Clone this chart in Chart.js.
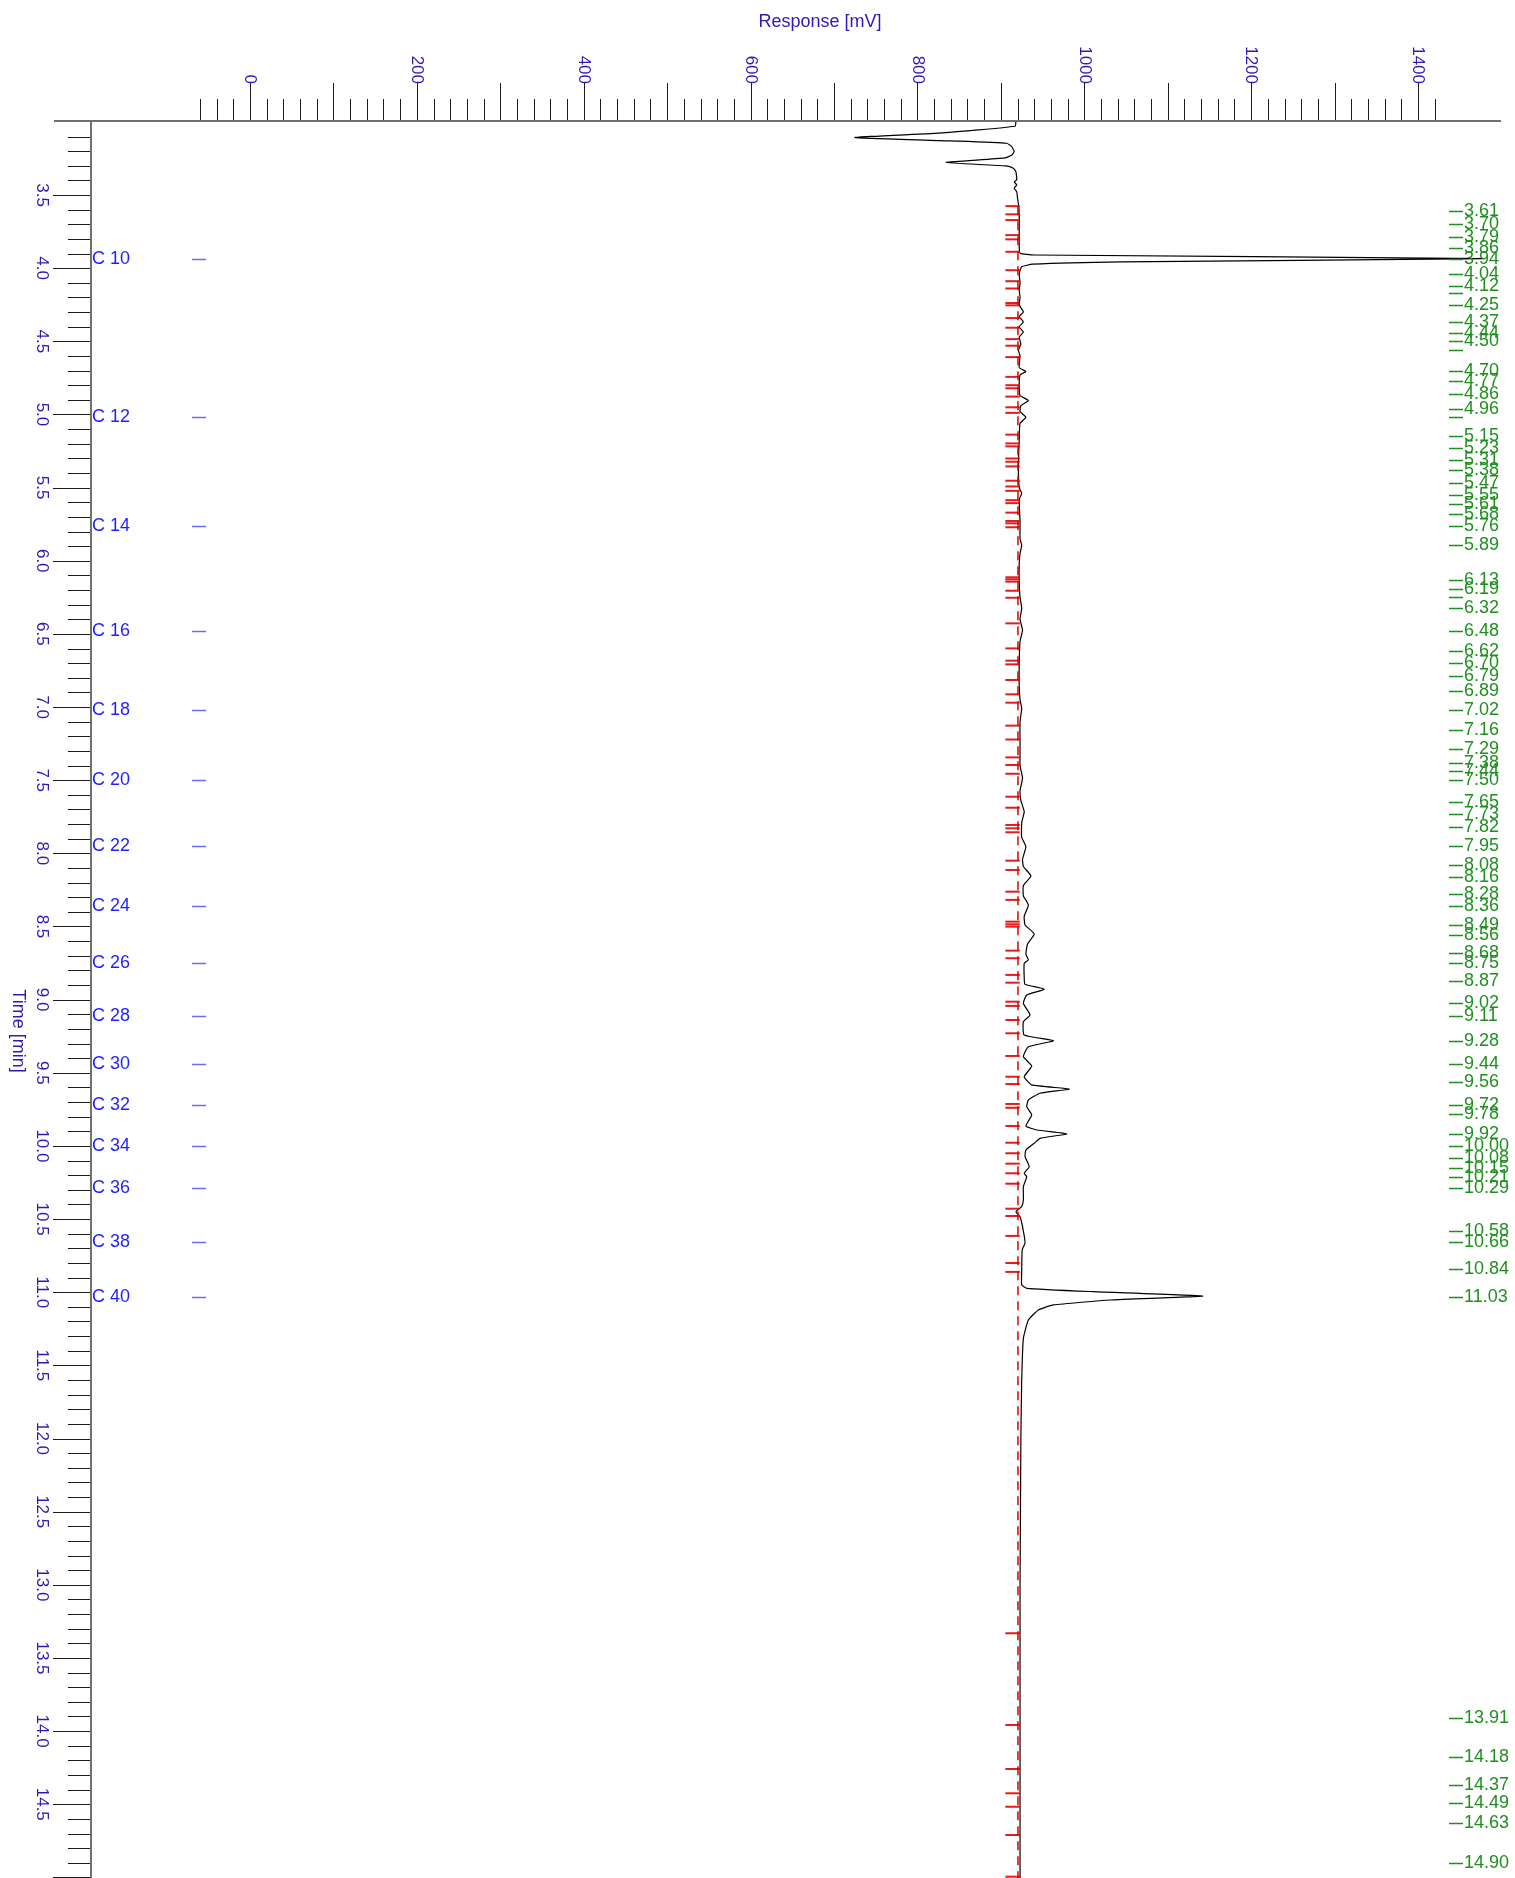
<!DOCTYPE html>
<html>
<head>
<meta charset="utf-8">
<title>Chromatogram</title>
<script src="https://cdn.jsdelivr.net/npm/chart.js@4.4.1/dist/chart.umd.min.js"></script>
<style>
  html, body { margin: 0; padding: 0; background: #fff; }
  canvas { display: block; }
</style>
</head>
<body>
<canvas id="chromChart" width="1515" height="1878"></canvas>
<script>
// ---- values ----
const responseTickLabels = [0, 200, 400, 600, 800, 1000, 1200, 1400];
const timeTickLabels = ['3.5', '4.0', '4.5', '5.0', '5.5', '6.0', '6.5', '7.0', '7.5', '8.0', '8.5',
    '9.0', '9.5', '10.0', '10.5', '11.0', '11.5', '12.0', '12.5', '13.0', '13.5', '14.0', '14.5'];

// detector trace: retention time [min] / response [mV]
const traceTime = [
    3.000, 3.030, 3.075, 3.107, 3.130, 3.146, 3.169, 3.203, 3.226, 3.246,
    3.278, 3.301, 3.317, 3.340, 3.397, 3.409, 3.431, 3.454, 3.477, 3.523,
    3.580, 3.650, 3.750, 3.850, 3.898, 3.910, 3.935, 3.957, 3.973, 3.991,
    4.037, 4.100, 4.150, 4.200, 4.250, 4.300, 4.330, 4.368, 4.400, 4.437,
    4.470, 4.520, 4.560, 4.600, 4.680, 4.706, 4.730, 4.800, 4.870, 4.905,
    4.940, 4.980, 5.019, 5.060, 5.180, 5.360, 5.500, 5.540, 5.580, 5.730,
    5.850, 5.895, 5.950, 6.020, 6.150, 6.250, 6.325, 6.400, 6.475, 6.550,
    6.700, 6.850, 6.950, 7.010, 7.100, 7.300, 7.400, 7.487, 7.570, 7.640,
    7.715, 7.790, 7.890, 7.955, 8.040, 8.090, 8.155, 8.220, 8.290, 8.353,
    8.430, 8.490, 8.551, 8.620, 8.690, 8.729, 8.752, 8.850, 8.895, 8.929,
    8.968, 9.025, 9.105, 9.150, 9.242, 9.281, 9.322, 9.390, 9.454, 9.527,
    9.583, 9.611, 9.640, 9.686, 9.732, 9.789, 9.864, 9.891, 9.918, 9.948,
    9.982, 10.028, 10.073, 10.142, 10.187, 10.210, 10.278, 10.369, 10.415, 10.449,
    10.484, 10.552, 10.661, 10.711, 10.850, 10.950, 10.973, 10.996, 11.026, 11.053,
    11.087, 11.121, 11.190, 11.315, 11.600, 12.000, 12.500, 13.000, 14.000, 15.004
];
const traceResponse = [
    918, 917, 830, 725, 840, 907, 913, 916, 913, 905,
    834, 906, 915, 918, 919, 916, 919, 916, 919, 920,
    921.5, 922, 922, 922, 923, 940, 1480, 1045, 938, 925,
    922, 923, 922, 923, 922, 927, 922, 927, 922, 927,
    922, 924, 921, 923, 922, 930, 923, 922, 923, 933,
    924, 923, 930, 923, 922, 921, 922, 925, 922, 923,
    923, 925, 923, 922, 922, 923, 925, 923, 926, 923,
    922, 922, 923, 925, 923, 923, 923, 926, 923, 924,
    928, 925, 925, 930, 926, 927, 936, 927, 927, 933,
    928, 929, 940, 932, 930, 933, 928, 928, 929, 952,
    931, 927, 935, 927, 928, 963, 933, 927, 937, 928,
    937, 982, 947, 933, 931, 937, 930, 943, 979, 947,
    940, 930, 929, 934, 928, 931, 927, 927, 925, 918,
    923, 926, 929, 925.6, 925, 925, 931, 1011, 1142, 1031,
    963, 945, 933, 927, 925, 924, 923.5, 923, 923, 923
];

// integration baseline and peak start/end marks
const baselineResponse = 920.5;
const baselineStart = 3.576;
const baselineEnd = 15.004;
const markResponse = 914;
const peakMarkTimes = [
    3.576, 3.632, 3.671, 3.774, 3.803, 3.888, 4.014, 4.089, 4.139, 4.238, 4.254, 4.341, 4.407, 4.485,
    4.530, 4.608, 4.743, 4.800, 4.821, 4.878, 4.951, 4.989, 5.138, 5.198, 5.218, 5.301, 5.323, 5.355,
    5.453, 5.492, 5.522, 5.586, 5.606, 5.671, 5.728, 5.744, 5.771, 6.113, 6.127, 6.143, 6.205, 6.253,
    6.428, 6.599, 6.683, 6.708, 6.815, 6.913, 6.970, 7.127, 7.222, 7.344, 7.396, 7.456, 7.613, 7.688,
    7.806, 7.829, 7.856, 8.050, 8.114, 8.262, 8.318, 8.467, 8.485, 8.501, 8.665, 8.717, 8.831, 8.884,
    9.014, 9.043, 9.139, 9.230, 9.385, 9.527, 9.577, 9.713, 9.739, 9.864, 9.978, 10.050, 10.121,
    10.187, 10.258, 10.429, 10.479, 10.615, 10.800, 10.861, 13.331, 13.958, 14.259, 14.425, 14.517,
    14.710, 14.995
];

// retention times printed on the right
const peakLabels = [
    '3.61', '3.70', '3.79', '3.86', '3.94', '4.04', '4.12', '4.25', '4.37', '4.44', '4.50', '4.70',
    '4.77', '4.86', '4.96', '5.15', '5.23', '5.31', '5.38', '5.47', '5.55', '5.61', '5.68', '5.76',
    '5.89', '6.13', '6.19', '6.32', '6.48', '6.62', '6.70', '6.79', '6.89', '7.02', '7.16', '7.29',
    '7.38', '7.44', '7.50', '7.65', '7.73', '7.82', '7.95', '8.08', '8.16', '8.28', '8.36', '8.49',
    '8.56', '8.68', '8.75', '8.87', '9.02', '9.11', '9.28', '9.44', '9.56', '9.72', '9.78', '9.92',
    '10.00', '10.08', '10.15', '10.21', '10.29', '10.58', '10.66', '10.84', '11.03', '13.91', '14.18',
    '14.37', '14.49', '14.63', '14.90'
];
const unlabeledPeakTimes = [4.17, 4.56, 5.02, 6.25];

// n-alkane reference markers
const carbonLabels = ['C 10', 'C 12', 'C 14', 'C 16', 'C 18', 'C 20', 'C 22', 'C 24', 'C 26', 'C 28',
    'C 30', 'C 32', 'C 34', 'C 36', 'C 38', 'C 40'];
const carbonTimes = [3.94, 5.02, 5.76, 6.48, 7.02, 7.50, 7.95, 8.36, 8.75, 9.11, 9.44, 9.72, 10.00,
    10.29, 10.66, 11.03];

// ---- drawing ----
const FONT = '"Liberation Sans", Arial, sans-serif';
const AXIS_BLUE = '#2d19b4';
const C_BLUE = '#1f1fff';
const LABEL_GREEN = '#1f8f1f';

const axesPlugin = {
    id: 'chromAxes',
    afterDraw(chart) {
        const { ctx, chartArea, scales: { x, y } } = chart;
        const top = chartArea.top;
        const left = chartArea.left;

        ctx.save();

        // tick marks
        ctx.strokeStyle = '#1a1a1a';
        ctx.lineWidth = 1;
        ctx.beginPath();
        for (let v = -60; v <= 1420; v += 20) {
            const px = Math.round(x.getPixelForValue(v)) + 0.5;
            const len = v % 100 === 0 ? 38 : 22;
            ctx.moveTo(px, top - len);
            ctx.lineTo(px, top);
        }
        for (let i = 31; i <= 150; i++) {
            const py = Math.round(y.getPixelForValue(i / 10)) + 0.5;
            const len = i % 5 === 0 ? 38 : 23;
            ctx.moveTo(left - len, py);
            ctx.lineTo(left, py);
        }
        ctx.stroke();

        // axis lines
        ctx.strokeStyle = '#707070';
        ctx.lineWidth = 2;
        ctx.beginPath();
        ctx.moveTo(54, top);
        ctx.lineTo(chartArea.right, top);
        ctx.moveTo(left, top);
        ctx.lineTo(left, chartArea.bottom);
        ctx.stroke();

        // tick labels, rotated clockwise
        ctx.fillStyle = AXIS_BLUE;
        ctx.font = '17px ' + FONT;
        responseTickLabels.forEach(v => {
            ctx.save();
            ctx.translate(x.getPixelForValue(v), top - 37);
            ctx.rotate(Math.PI / 2);
            ctx.textAlign = 'right';
            ctx.textBaseline = 'middle';
            ctx.fillText(String(v), 0, 0);
            ctx.restore();
        });
        timeTickLabels.forEach(label => {
            ctx.save();
            ctx.translate(42, y.getPixelForValue(parseFloat(label)));
            ctx.rotate(Math.PI / 2);
            ctx.textAlign = 'center';
            ctx.textBaseline = 'middle';
            ctx.fillText(label, 0, 0);
            ctx.restore();
        });

        // axis titles
        ctx.font = '18px ' + FONT;
        ctx.textAlign = 'center';
        ctx.textBaseline = 'middle';
        ctx.fillText('Response [mV]', 820, 22);
        ctx.save();
        ctx.translate(18, 1031);
        ctx.rotate(Math.PI / 2);
        ctx.fillText('Time [min]', 0, 0);
        ctx.restore();

        // carbon number markers
        ctx.textAlign = 'left';
        carbonLabels.forEach((label, i) => {
            const py = y.getPixelForValue(carbonTimes[i]);
            ctx.fillStyle = C_BLUE;
            ctx.fillText(label, left + 1, py);
            ctx.strokeStyle = '#6b6bff';
            ctx.lineWidth = 1.5;
            ctx.beginPath();
            ctx.moveTo(192, Math.round(py) + 0.5);
            ctx.lineTo(206, Math.round(py) + 0.5);
            ctx.stroke();
        });

        // retention time labels on the right
        ctx.strokeStyle = LABEL_GREEN;
        ctx.lineWidth = 1.3;
        ctx.beginPath();
        const dashTimes = peakLabels.map(parseFloat).concat(unlabeledPeakTimes);
        dashTimes.forEach(t => {
            const py = Math.round(y.getPixelForValue(t)) + 0.5;
            ctx.moveTo(1449, py);
            ctx.lineTo(1463, py);
        });
        ctx.stroke();
        ctx.fillStyle = LABEL_GREEN;
        peakLabels.forEach(label => {
            ctx.fillText(label, 1464, y.getPixelForValue(parseFloat(label)));
        });

        ctx.restore();
    }
};

class Chromatogram {
    constructor(canvasId) {
        this.canvas = document.getElementById(canvasId);
        this.chart = null;
        this.init();
    }

    init() {
        const trace = traceTime.map((t, i) => ({ x: traceResponse[i], y: t }));
        const baseline = [
            { x: baselineResponse, y: baselineStart },
            { x: baselineResponse, y: baselineEnd }
        ];
        const marks = peakMarkTimes.map(t => ({ x: markResponse, y: t }));

        this.chart = new Chart(this.canvas, {
            type: 'scatter',
            data: {
                datasets: [
                    {
                        label: 'Baseline',
                        data: baseline,
                        showLine: true,
                        borderColor: '#e00000',
                        borderWidth: 1.5,
                        borderDash: [9, 6],
                        pointRadius: 0
                    },
                    {
                        label: 'Peak limits',
                        data: marks,
                        pointStyle: 'line',
                        pointRadius: 7.2,
                        borderColor: 'rgba(228, 0, 0, 0.9)',
                        borderWidth: 2
                    },
                    {
                        label: 'Signal',
                        data: trace,
                        showLine: true,
                        borderColor: '#000',
                        borderWidth: 1.2,
                        pointRadius: 0,
                        tension: 0.15
                    }
                ]
            },
            options: {
                responsive: false,
                animation: false,
                events: [],
                // no automatic padding: the plot area must reach the bottom edge
                layout: { autoPadding: false, padding: { left: 91, top: 121, right: 14, bottom: 0 } },
                plugins: {
                    legend: { display: false },
                    tooltip: { enabled: false }
                },
                scales: {
                    x: { type: 'linear', position: 'top', min: -190.6, max: 1499.5, display: false },
                    y: { type: 'linear', reverse: true, min: 2.994, max: 15.004, display: false }
                }
            },
            plugins: [axesPlugin]
        });
    }
}

window.chromatogram = new Chromatogram('chromChart');
</script>
</body>
</html>
